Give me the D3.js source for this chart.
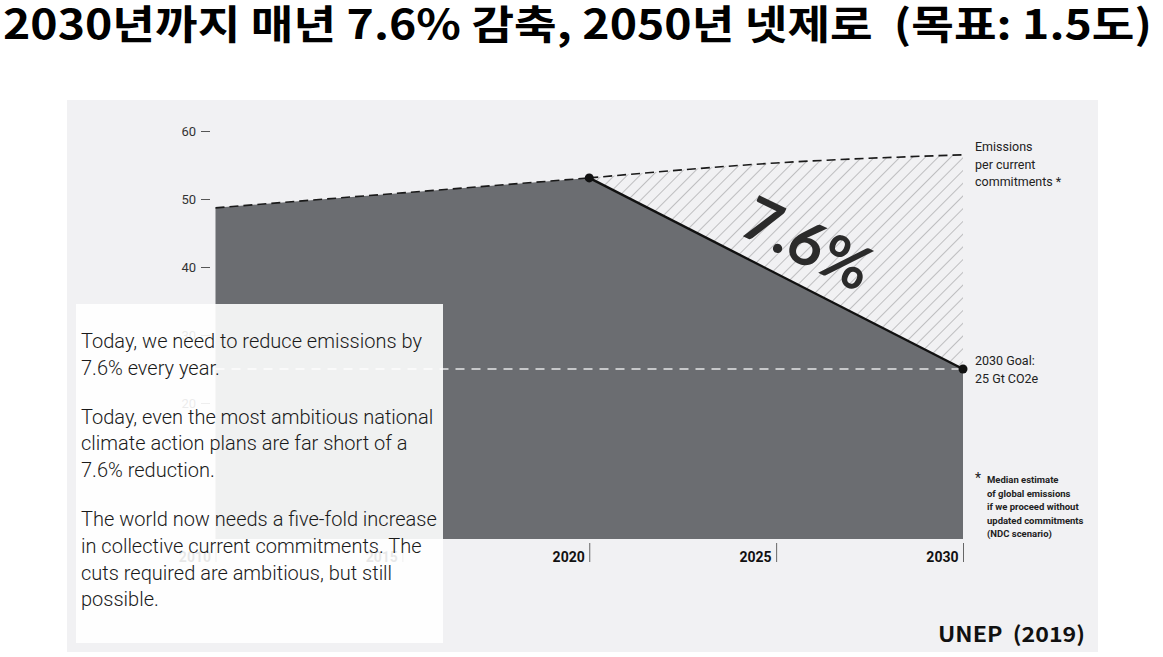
<!DOCTYPE html>
<html>
<head>
<meta charset="utf-8">
<script src="https://cdn.jsdelivr.net/npm/d3@7"></script>
<style>
body { margin: 0; background: #ffffff; }
svg { display: block; }
</style>
</head>
<body>
<div id="chart"></div>
<script>
// data (Gt CO2e)
const histYears = [2010, 2015, 2020]
const histValues = [48.7, 50.9, 53.1]
const ndcYears = [2020, 2025, 2030]
const ndcValues = [53.1, 55.3, 56.5]
const pathYears = [2020, 2030]
const pathValues = [53.1, 25]
const goalValue = 25
const yTicks = [20, 30, 40, 50, 60]
const xTicks = [2010, 2015, 2020, 2025, 2030]

const titleText = "2030년까지 매년 7.6% 감축, 2050년 넷제로  (목표: 1.5도)"
const ndcLabel = ["Emissions", "per current", "commitments *"]
const goalLabel = ["2030 Goal:", "25 Gt CO2e"]
const footLines = ["Median estimate", "of global emissions", "if we proceed without", "updated commitments", "(NDC scenario)"]
const paragraphs = [
	["Today, we need to reduce emissions by", "7.6% every year."],
	["Today, even the most ambitious national", "climate action plans are far short of a", "7.6% reduction."],
	["The world now needs a five-fold increase", "in collective current commitments. The", "cuts required are ambitious, but still", "possible."]
]

const W = 1163, H = 657
const svg = d3.select("#chart").append("svg")
	.attr("width", W)
	.attr("height", H)

const x = d3.scaleLinear().domain([2010, 2030]).range([215.5, 963])
const y = d3.scaleLinear().domain([0, 60]).range([539, 131])

// grey panel
svg.append("rect")
	.attr("x", 67).attr("y", 100)
	.attr("width", 1031).attr("height", 552)
	.attr("fill", "#f1f1f3")

// hatch pattern
const defs = svg.append("defs")
const pat = defs.append("pattern")
	.attr("id", "hatch")
	.attr("patternUnits", "userSpaceOnUse")
	.attr("width", 9).attr("height", 9)
	.attr("patternTransform", "rotate(45)")
pat.append("line")
	.attr("x1", 0).attr("y1", 0).attr("x2", 0).attr("y2", 9)
	.attr("stroke", "#8c8c8e")
	.attr("stroke-width", 1)

// main area: history then reduction path, down to 0
const areaPts = histYears.map((d, i) => [d, histValues[i]])
	.concat([[pathYears[1], pathValues[1]]])
svg.append("path")
	.datum(areaPts)
	.attr("d", d3.area().x(d => x(d[0])).y0(y(0)).y1(d => y(d[1])))
	.attr("fill", "#6b6d71")

// hatched gap between NDC line and reduction path
const ndcPts = ndcYears.map((d, i) => [d, ndcValues[i]])
const ndcLine = d3.line().x(d => x(d[0])).y(d => y(d[1])).curve(d3.curveMonotoneX)
const gapPath = ndcLine(ndcPts) + "L" + x(pathYears[1]) + "," + y(pathValues[1]) +
	"L" + x(pathYears[0]) + "," + y(pathValues[0]) + "Z"
svg.append("path")
	.attr("d", gapPath)
	.attr("fill", "url(#hatch)")

// dashed lines
const line = d3.line().x(d => x(d[0])).y(d => y(d[1]))
svg.append("path")
	.datum(histYears.map((d, i) => [d, histValues[i]]))
	.attr("d", line)
	.attr("fill", "none")
	.attr("stroke", "#1a1a1a")
	.attr("stroke-width", 1.6)
	.attr("stroke-dasharray", "9 5")
svg.append("path")
	.attr("d", ndcLine(ndcPts))
	.attr("fill", "none")
	.attr("stroke", "#1a1a1a")
	.attr("stroke-width", 1.6)
	.attr("stroke-dasharray", "9 5")

// goal line
svg.append("line")
	.attr("x1", x(2010)).attr("x2", x(2030))
	.attr("y1", y(goalValue)).attr("y2", y(goalValue))
	.attr("stroke", "#e6e6e8")
	.attr("stroke-width", 1.3)
	.attr("stroke-dasharray", "9 7")

// reduction path
svg.append("path")
	.datum(pathYears.map((d, i) => [d, pathValues[i]]))
	.attr("d", line)
	.attr("fill", "none")
	.attr("stroke", "#111")
	.attr("stroke-width", 2.4)
svg.selectAll(".dot")
	.data(pathYears.map((d, i) => [d, pathValues[i]]))
	.join("circle")
	.attr("class", "dot")
	.attr("cx", d => x(d[0]))
	.attr("cy", d => y(d[1]))
	.attr("r", 4.5)
	.attr("fill", "#111")

// big label
svg.append("text")
	.attr("transform", "translate(805,249) rotate(26)")
	.attr("text-anchor", "middle")
	.attr("dominant-baseline", "middle")
	.attr("font-family", "Lato, sans-serif")
	.attr("font-weight", 700)
	.attr("font-size", 61)
	.attr("fill", "#2b2b2b")
	.text("7.6%")

// y axis
const yAxis = svg.append("g")
	.attr("transform", "translate(211,0)")
	.call(d3.axisLeft(y).tickValues(yTicks).tickSize(10).tickPadding(5))
yAxis.select(".domain").remove()
yAxis.selectAll(".tick line").attr("stroke", "#555").attr("x2", -10).attr("x1", -1)
yAxis.selectAll("text")
	.attr("font-family", "Roboto, sans-serif")
	.attr("font-size", 13)
	.attr("fill", "#333")

// x axis
const xAxis = svg.append("g")
	.attr("transform", "translate(0,543)")
	.call(d3.axisBottom(x).tickValues(xTicks).tickFormat(d3.format("d")).tickSize(19))
xAxis.select(".domain").remove()
xAxis.selectAll(".tick line").attr("stroke", "#666")
xAxis.selectAll("text")
	.attr("text-anchor", "end")
	.attr("x", -5)
	.attr("y", 19)
	.attr("dy", 0)
	.attr("font-family", "Roboto, sans-serif")
	.attr("font-weight", 700)
	.attr("font-size", 14)
	.attr("fill", "#111")

// right-side annotations
function block(lines, x0, y0, step, opts) {
	const t = svg.append("text")
		.attr("font-family", "Roboto, sans-serif")
		.attr("font-size", opts.size)
		.attr("font-weight", opts.weight)
		.attr("fill", "#222")
	lines.forEach((s, i) => {
		t.append("tspan").attr("x", x0).attr("y", y0 + i * step).text(s)
	})
}
block(ndcLabel, 975, 151, 17.5, {size: 12.5, weight: 400})
block(goalLabel, 975, 365, 17.5, {size: 12.5, weight: 400})
svg.append("text")
	.attr("x", 975).attr("y", 483)
	.attr("font-family", "Roboto, sans-serif")
	.attr("font-size", 14)
	.attr("fill", "#222")
	.text("*")
block(footLines, 987, 483, 13.6, {size: 9.5, weight: 700})

// white text box over the chart
svg.append("rect")
	.attr("x", 76).attr("y", 304)
	.attr("width", 367).attr("height", 339)
	.attr("fill", "#ffffff")
	.attr("opacity", 0.9)

let ty = 348
paragraphs.forEach(p => {
	const t = svg.append("text")
		.attr("font-family", "Roboto, sans-serif")
		.attr("font-weight", 300)
		.attr("font-size", 20)
		.attr("fill", "#1a1a1a")
	p.forEach((s, i) => {
		t.append("tspan").attr("x", 81).attr("y", ty + i * 26.8).text(s)
	})
	ty += p.length * 26.8 + 22
})

// source
svg.append("text")
	.attr("x", 938).attr("y", 642)
	.attr("font-family", "'Noto Sans CJK KR', sans-serif")
	.attr("font-weight", 700)
	.attr("font-size", 21)
	.attr("textLength", 147)
	.attr("lengthAdjust", "spacingAndGlyphs")
	.attr("fill", "#111")
	.style("white-space", "pre")
	.text("UNEP  (2019)")

// title
svg.append("text")
	.attr("x", 3).attr("y", 39)
	.attr("font-family", "'Noto Sans CJK KR', sans-serif")
	.attr("font-weight", 700)
	.attr("font-size", 40)
	.attr("textLength", 1149)
	.attr("lengthAdjust", "spacingAndGlyphs")
	.attr("fill", "#000")
	.style("white-space", "pre")
	.text(titleText)
</script>
</body>
</html>
